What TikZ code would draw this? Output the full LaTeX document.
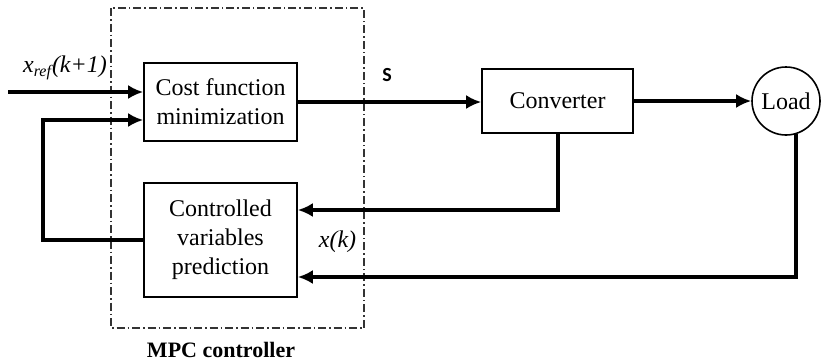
\documentclass[tikz,border=0pt]{standalone}
\usepackage{fontspec}
\setmainfont{Liberation Serif}
\newfontfamily\sigfont{Carlito}
\usetikzlibrary{arrows.meta}

\begin{document}
\begin{tikzpicture}[x=0.5pt, y=-0.5pt, >={Latex[length=7.5pt,width=7pt]},
  font=\fontsize{12pt}{14.5pt}\selectfont,
  block/.style={draw, line width=0.8pt, minimum width=76.5pt, align=center, inner sep=2pt},
  signal/.style={->, line width=2pt}]

\useasboundingbox (0,0) rectangle (823,360);

% The MPC controller frame
\draw [line width=0.6pt, black!80, dash pattern=on 4pt off 1.5pt on 0.75pt off 1.5pt]
  (111,8) rectangle (364,328);
\node (mpc) at (221,350) {\fontsize{11pt}{13pt}\selectfont\bfseries MPC controller};

% Blocks of the loop
\node [block, minimum height=39pt] (cost) at (220.5,102) {Cost function\\minimization};
\node [block, minimum height=57pt] (pred) at (220.5,240) {Controlled\\variables\\prediction};
\node [block, minimum width=75.5pt, minimum height=32pt] (conv) at (557.5,101) {Converter};
\node [draw, circle, line width=0.8pt, minimum size=34pt, inner sep=0pt] (load) at (786,101) {Load};

% Reference input and prediction feedback
\coordinate (ref) at ([yshift=5pt]cost.west);
\coordinate (in) at (8,0);
\coordinate (fb) at (43,0);
\draw [signal] (in |- ref) -- (ref);
\draw [signal] (pred.west) -- (pred.west -| fb) |- ([yshift=-9pt]cost.west);

% Forward path
\draw [signal] (cost.east) -- (cost.east -| conv.west);
\draw [signal] (conv.east) -- (conv.east -| load.west);

% Measured states back to the prediction
\draw [signal, line join=miter] (conv.south) |- ([yshift=15pt]pred.east);
\draw [signal, line join=miter] (load.-73) |- ([yshift=-18.5pt]pred.east);

% Signal labels
\node (xref) at (65,68) {\itshape x\textsubscript{ref}(k+1)};
\node (s) at (387,75) {\fontsize{10pt}{12pt}\selectfont\sigfont\bfseries S};
\node (xk) at (337.5,242) {\itshape x(k)};

\end{tikzpicture}
\end{document}
